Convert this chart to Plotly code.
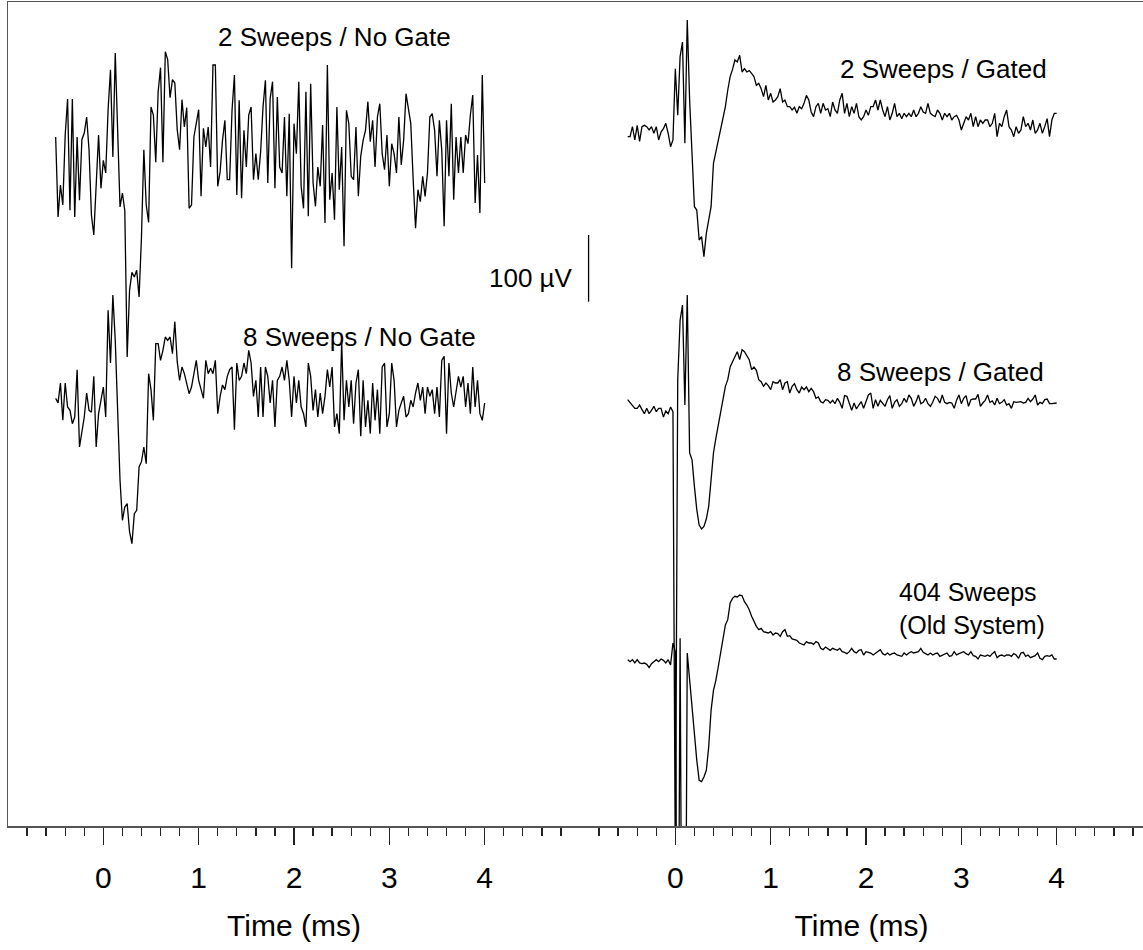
import numpy as np
import plotly.graph_objects as go

# ---------------- data (µV deflections, sampled every 0.025 ms from -0.5 ms) -------------
T_START = -0.5
T_STEP = 0.025
N_SAMPLES = 181
time_ms = np.round(T_START + T_STEP * np.arange(N_SAMPLES), 4)

sweeps2_nogate = [
    27, -93, -45, -75, 30, 84, -83, 84, -93, 27,
    -68, 23, 33, 57, 8, -90, -120, -48, 30, -50,
    -8, -27, 68, 128, -3, 153, 38, -78, -57, -83,
    -303, -203, -176, -183, -173, -213, -123, 8, -75, -101,
    72, 60, -11, 95, 131, -11, 155, 143, 86, 113,
    108, 38, 8, 83, 42, 71, -80, -75, 27, 50,
    68, -62, 40, 12, 42, -18, 135, 135, -47, -25,
    22, 52, -37, -37, 67, 120, -60, 82, -65, 37,
    -18, 60, 72, -37, 2, -37, 5, 72, 112, -42,
    85, 110, -50, 87, -18, -27, 57, -62, 62, -170,
    47, 2, 110, -47, -80, 95, -92, 107, -42, -77,
    -18, -47, 45, -102, 135, -67, -27, -97, 72, -52,
    12, -137, 67, 47, -32, -37, 42, -62, -2, 22,
    37, 80, 20, 52, -18, 57, 77, 2, -22, 30,
    -47, 17, 2, -27, 57, -15, 22, 92, 72, 47,
    -37, -110, -52, -70, -32, -62, -27, 57, 62, 37,
    -32, 52, 7, -107, 52, -32, 77, -67, 27, -27,
    27, -27, 30, 17, 60, 90, -72, 0, -87, 120,
    -42,
]

sweeps8_nogate = [
    7, 0, 30, -26, 30, -6, -11, -31, -21, 50,
    -66, -46, -21, 15, -11, -14, 40, -66, -16, 4,
    24, -21, 139, 60, 162, 94, -16, -116, -176, -156,
    -151, -193, -211, -166, -161, -96, -88, -66, -91, 44,
    20, -26, 89, 89, 64, 79, 99, 94, 99, 74,
    122, 62, 34, 54, 44, 30, 14, 24, 44, 64,
    34, 20, 7, 64, 44, 52, 44, 64, -16, 10,
    27, 20, 40, 50, 54, -40, 60, 34, 40, 60,
    44, 79, 60, 10, 34, -21, 54, -21, 54, 40,
    0, 34, -36, 34, 40, 54, 34, 64, 34, -21,
    40, 0, 34, -6, -16, -36, 60, 40, -11, 20,
    -21, 15, -16, 10, 50, 24, 54, -36, -16, -46,
    92, -26, 34, -6, 34, -31, 30, 50, -50, 34,
    -36, 4, -46, 30, -26, 20, -46, 54, 60, -36,
    -16, 60, 34, -36, -11, 0, 10, -21, -16, 4,
    -6, 15, 30, 4, 24, -16, 24, 10, 20, -16,
    24, -21, 64, 70, -46, 60, 15, -6, 15, 40,
    24, 40, -6, 30, -16, 54, -6, 34, -16, -26,
    0,
]

sweeps2_gated = [
    -7, -7, 8, -12, 10, -14, 8, 10, 8, 3,
    8, -2, 8, -12, 0, 5, 13, -2, -22, -12,
    95, 25, 113, 135, -17, 168, 48, -47, -112, -117,
    -162, -157, -187, -152, -132, -112, -47, -30, -17, 3,
    20, 38, 63, 83, 94, 108, 105, 115, 90, 95,
    90, 92, 88, 83, 70, 73, 65, 53, 70, 48,
    58, 45, 48, 53, 65, 45, 48, 38, 38, 33,
    37, 28, 38, 35, 43, 55, 48, 30, 23, 38,
    43, 28, 43, 33, 35, 23, 45, 33, 28, 48,
    58, 28, 43, 23, 38, 28, 43, 23, 18, 23,
    33, 25, 38, 38, 48, 33, 48, 33, 23, 38,
    18, 28, 43, 23, 28, 20, 28, 23, 28, 23,
    33, 23, 28, 38, 30, 28, 43, 28, 25, 23,
    33, 28, 18, 28, 23, 28, 18, 23, 25, 18,
    3, 13, 23, 18, 28, 8, 23, 8, 18, 13,
    18, 18, 8, 13, 28, -7, 13, 8, 23, 33,
    8, 3, -7, 8, -2, 3, 23, 8, 13, 3,
    18, -2, 3, 13, -2, 8, 20, -7, 18, 28,
    28,
]

sweeps8_gated = [
    8, 4, 0, -5, -5, 0, -7, -13, -5, -13,
    -8, -2, -10, -5, -5, -18, -9, -13, -3, -10,
    -700, 37, 127, 150, 0, 165, -72, -82, -122, -157,
    -180, -186, -182, -171, -152, -117, -72, -50, -30, -15,
    8, 28, 38, 57, 65, 74, 80, 68, 83, 80,
    73, 68, 53, 57, 52, 38, 35, 28, 33, 29,
    23, 35, 33, 33, 38, 23, 33, 35, 18, 28,
    32, 23, 18, 27, 23, 27, 20, 25, 20, 10,
    12, 5, 3, 8, 7, 3, 7, 2, 10, 4,
    -5, 14, 13, 2, -8, 3, -6, 0, 5, -5,
    5, 15, 18, -5, 8, -2, 7, 3, -2, 8,
    14, -5, 4, 8, -2, 2, 10, 4, 15, 10,
    -2, 5, 15, 2, 4, 10, 2, -2, 4, 13,
    10, 3, 15, 4, 2, 4, 3, -5, 7, 15,
    2, 10, 14, -2, 8, 9, 9, 16, -2, 3,
    7, 15, 4, 6, 0, 10, 2, 4, 8, 0,
    2, -5, 5, 4, 5, 5, 3, 4, 10, 5,
    9, 15, 0, 4, 2, 8, 9, 2, 2, 3,
    3,
]

sweeps404_old = [
    3, 0, 3, -2, 3, -2, -3, -2, -4, -9,
    -3, 0, 3, 0, 4, 2, -2, 3, -5, 28,
    15, -700, 35, -700, -700, 13, -28, -68, -108, -148,
    -178, -180, -173, -163, -128, -73, -43, -28, -8, 15,
    33, 55, 63, 88, 95, 98, 97, 100, 99, 90,
    85, 78, 68, 60, 53, 48, 50, 45, 44, 43,
    45, 40, 43, 42, 38, 45, 48, 38, 39, 34,
    33, 32, 28, 26, 25, 30, 28, 28, 26, 30,
    28, 20, 18, 22, 19, 17, 20, 18, 17, 20,
    15, 14, 12, 15, 20, 15, 13, 17, 18, 10,
    15, 14, 13, 10, 13, 15, 18, 12, 10, 13,
    10, 12, 13, 10, 9, 8, 13, 10, 13, 15,
    13, 14, 15, 20, 14, 12, 10, 13, 10, 12,
    13, 8, 10, 11, 13, 8, 9, 15, 10, 12,
    13, 15, 12, 10, 15, 9, 8, 4, 10, 9,
    8, 10, 8, 12, 15, 6, 9, 10, 8, 10,
    10, 8, 12, 10, 5, 13, 14, 8, 10, 6,
    8, 9, 13, 5, 3, 8, 9, 8, 10, 4,
    4,
]

trace_names = ["2 Sweeps / No Gate", "8 Sweeps / No Gate", "2 Sweeps / Gated",
               "8 Sweeps / Gated", "404 Sweeps (Old System)"]
trace_values = [sweeps2_nogate, sweeps8_nogate, sweeps2_gated, sweeps8_gated, sweeps404_old]
trace_panel = ["x", "x", "x2", "x2", "x2"]
trace_offset_uv = [1006.5, 634.5, 1041.0, 631.5, 246.5]

scale_bar_uv = 100
scale_bar_base_uv = 786.5
scale_bar_time = -0.91

tick_major = [0, 1, 2, 3, 4]
tick_minor = [-0.8, -0.6, -0.4, -0.2, 0.2, 0.4, 0.6, 0.8, 1.2, 1.4, 1.6, 1.8,
              2.2, 2.4, 2.6, 2.8, 3.2, 3.4, 3.6, 3.8, 4.2, 4.4, 4.6, 4.8]

# ---------------- figure -------------
FONT = "Liberation Sans, Arial, Helvetica, sans-serif"
W, H = 1143, 950
ML, MR, MT, MB = 8, 0, 2, 124
plot_w = W - ML - MR
split = 572 / plot_w
right_end = (plot_w - 572) / (572 / 6.0) - 1.0

fig = go.Figure()
for name, vals, xa, off in zip(trace_names, trace_values, trace_panel, trace_offset_uv):
    fig.add_trace(go.Scatter(
        x=time_ms, y=np.array(vals, dtype=float) + off, mode="lines", name=name,
        line=dict(color="black", width=1.3), xaxis=xa, yaxis="y",
        showlegend=False, hoverinfo="skip"))

fig.add_trace(go.Scatter(
    x=[scale_bar_time, scale_bar_time],
    y=[scale_bar_base_uv, scale_bar_base_uv + scale_bar_uv],
    mode="lines", line=dict(color="black", width=1.3), xaxis="x2", yaxis="y",
    showlegend=False, hoverinfo="skip"))

axis_common = dict(
    showline=True, linecolor="#555555", linewidth=1.5, mirror=True,
    ticks="outside", ticklen=17, tickwidth=1.3, tickcolor="#222222",
    tickmode="array", tickvals=tick_major, ticktext=[str(v) for v in tick_major],
    tickfont=dict(size=30, color="black", family=FONT),
    ticklabelstandoff=7,
    minor=dict(tickmode="array", tickvals=tick_minor, ticks="outside", ticklen=8,
               tickwidth=1.3, tickcolor="#222222", showgrid=False),
    showgrid=False, zeroline=False, automargin=False, fixedrange=True,
    title=dict(text="Time (ms)", font=dict(size=30, color="black", family=FONT), standoff=22),
)

fig.update_layout(
    width=W, height=H,
    margin=dict(l=ML, r=MR, t=MT, b=MB, pad=0),
    paper_bgcolor="white", plot_bgcolor="white",
    font=dict(family=FONT, color="black"),
    xaxis=dict(domain=[0, split], range=[-1, 5], anchor="y", **axis_common),
    xaxis2=dict(domain=[split, 1], range=[-1, right_end], anchor="y", **axis_common),
    yaxis=dict(range=[0, 1236], showline=True, linecolor="#555555", linewidth=1.5,
               showticklabels=False, ticks="", showgrid=False, zeroline=False,
               fixedrange=True, anchor="x"),
    showlegend=False,
)

ann_font = dict(size=26, color="black", family=FONT)
annotations = [
    dict(text="2 Sweeps / No Gate", x=3.664, y=1183.5, xref="x", yref="y", xanchor="right"),
    dict(text="8 Sweeps / No Gate", x=3.926, y=733.5, xref="x", yref="y", xanchor="right"),
    dict(text="2 Sweeps / Gated", x=3.917, y=1135.5, xref="x2", yref="y", xanchor="right"),
    dict(text="8 Sweeps / Gated", x=3.885, y=681.75, xref="x2", yref="y", xanchor="right"),
    dict(text="100 µV", x=4.944, y=822, xref="x", yref="y", xanchor="right"),
]
for a in annotations:
    fig.add_annotation(showarrow=False, yanchor="middle", font=ann_font, **a)

fig.add_annotation(text="404 Sweeps<br>(Old System)", x=2.33, y=326, xref="x2", yref="y",
                   xanchor="left", yanchor="middle", align="left", showarrow=False,
                   font=dict(size=25, color="black", family=FONT))

fig.write_html("out.html",
               config={"displayModeBar": False, "staticPlot": True},
               post_script="document.body.style.margin='0';document.body.style.padding='0';")
